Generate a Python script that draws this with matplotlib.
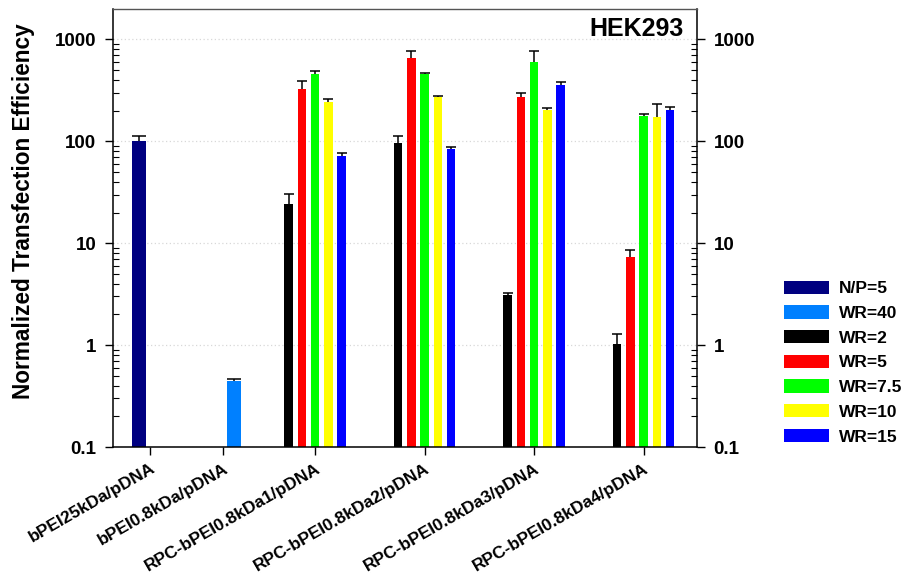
import matplotlib
matplotlib.use("Agg")
import matplotlib.pyplot as plt
import numpy as np
from matplotlib.patches import Patch

plt.rcParams['font.family'] = ['Liberation Sans', 'DejaVu Sans']

categories = ['bPEI25kDa/pDNA', 'bPEI0.8kDa/pDNA', 'RPC-bPEI0.8kDa1/pDNA',
              'RPC-bPEI0.8kDa2/pDNA', 'RPC-bPEI0.8kDa3/pDNA', 'RPC-bPEI0.8kDa4/pDNA']

# control samples (single bars)
np5_value = [100.0]
np5_upper = [114.0]
wr40_value = [0.44]
wr40_upper = [0.46]

# RPC-bPEI groups (4 polymers)
series_names = ['WR=2', 'WR=5', 'WR=7.5', 'WR=10', 'WR=15']
wr2 = [24.4, 97.0, 3.13, 1.03]
wr2_up = [30.1, 112.0, 3.25, 1.29]
wr5 = [327.0, 665.0, 271.0, 7.4]
wr5_up = [389.0, 762.0, 298.0, 8.6]
wr75 = [456.0, 456.0, 594.0, 176.0]
wr75_up = [491.0, 465.0, 767.0, 185.0]
wr10 = [246.0, 271.0, 202.0, 175.0]
wr10_up = [259.0, 279.0, 214.0, 233.0]
wr15 = [72.3, 84.0, 361.0, 203.0]
wr15_up = [77.4, 87.0, 386.0, 216.0]

series_vals = [wr2, wr5, wr75, wr10, wr15]
series_ups = [wr2_up, wr5_up, wr75_up, wr10_up, wr15_up]
series_colors = ['#000000', '#FF0000', '#00FF00', '#FFFF00', '#0000FF']
np5_color = '#000080'
wr40_color = '#0080FF'

yticks = [0.1, 1, 10, 100, 1000]
ytick_labels = ['0.1', '1', '10', '100', '1000']

fig = plt.figure(figsize=(9.05, 5.74), dpi=100)
ax = fig.add_axes([113/905, 1-447/574, (697-113)/905, (447-9)/574])
ax.set_yscale('log')

tick_pos = [0.493, 1.16, 2, 3, 4, 5]
group_pos = np.array(tick_pos[2:])


def ebar(x, val, up, w):
    v = np.atleast_1d(val)
    u = np.atleast_1d(up)
    _, caps, _ = ax.errorbar(x, v, yerr=[np.zeros_like(v), u - v], fmt='none',
                             ecolor='black', elinewidth=1.1, capsize=w, capthick=1.1,
                             zorder=3)
    caps[0].set_visible(False)

# single bars
ax.bar([tick_pos[0] - 0.1], np5_value, width=0.128, color=np5_color, zorder=2)
ebar([tick_pos[0] - 0.1], np5_value, np5_upper, 5)
ax.bar([tick_pos[1] + 0.1], wr40_value, width=0.128, color=wr40_color, zorder=2)
ebar([tick_pos[1] + 0.1], wr40_value, wr40_upper, 5)

spacing = 0.121
bw = 0.078
for i, (vals, ups, c) in enumerate(zip(series_vals, series_ups, series_colors)):
    x = group_pos + (i - 2) * spacing
    ax.bar(x, vals, width=bw, color=c, zorder=2)
    ebar(x, vals, ups, 3.6)

ax.set_xlim(0.155, 5.488)
ax.set_ylim(0.1, 1990)

ax.set_yticks(yticks)
ax.set_yticklabels(ytick_labels, fontsize=13.5, fontweight='bold')
ax.yaxis.set_minor_formatter(matplotlib.ticker.NullFormatter())
ax.tick_params(axis='y', which='major', direction='out', length=6, width=1,
               right=True, labelright=True, pad=6)
ax.tick_params(axis='y', which='minor', direction='in', length=4, width=0.8, right=True)
for lab in ax.get_yticklabels(which='major'):
    lab.set_fontweight('bold')

ax.set_xticks(tick_pos)
ax.set_xticklabels(categories, rotation=30, ha='right', rotation_mode='anchor',
                   fontsize=12.5, fontweight='bold')
ax.tick_params(axis='x', direction='out', length=6, width=1, pad=4)

ax.grid(axis='y', which='major', linestyle=(0, (1, 2)), color='#d8d8d8', linewidth=0.9, zorder=0)
for s in ['left', 'bottom', 'right']:
    ax.spines[s].set_linewidth(1.1)
ax.spines['top'].set_linewidth(1.0)
ax.spines['top'].set_color('#555555')

ax.set_ylabel('Normalized Transfection Efficiency', fontsize=16.3, fontweight='bold')
ax.yaxis.set_label_coords(-0.133, 0.539)

ax.text(0.977, 0.955, 'HEK293', transform=ax.transAxes, ha='right', va='center',
        fontsize=18, fontweight='bold')

handles = [Patch(facecolor=np5_color, label='N/P=5'), Patch(facecolor=wr40_color, label='WR=40')]
handles += [Patch(facecolor=c, label=n) for c, n in zip(series_colors, series_names)]
fig.legend(handles=handles, loc='upper left', bbox_to_anchor=(775/905, 1-272/574),
           frameon=False, prop={'weight': 'bold', 'size': 12.5},
           handlelength=2.6, handleheight=0.8, labelspacing=0.52, handletextpad=0.6,
           borderpad=0)

fig.savefig('out.png', dpi=100)
